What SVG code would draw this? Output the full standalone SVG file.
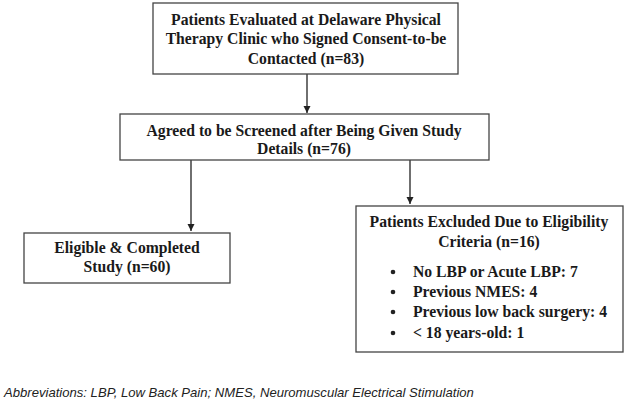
<svg xmlns="http://www.w3.org/2000/svg" width="627" height="406" viewBox="0 0 627 406">
<style>
.box{fill:#fff;stroke:#444;stroke-width:1.3}
.t{font-family:"Liberation Serif","Times New Roman",serif;font-weight:bold;font-size:15.7px;fill:#1a1a1a;text-anchor:middle}
.l{font-family:"Liberation Serif","Times New Roman",serif;font-weight:bold;font-size:15.7px;fill:#1a1a1a}
.c{stroke:#222;stroke-width:1.3;fill:none}
.f{font-family:"Liberation Sans",Arial,sans-serif;font-style:italic;font-size:13.1px;fill:#222}
</style>
<defs>
<marker id="ah" markerWidth="8" markerHeight="8" refX="7" refY="4" orient="auto" markerUnits="userSpaceOnUse">
<path d="M0,0.5 L7,4 L0,7.5 Z" fill="#222"/>
</marker>
</defs>
<rect width="627" height="406" fill="#fff"/>
<g id="connectors">
<line class="c" x1="307" y1="74" x2="307" y2="113" marker-end="url(#ah)"/>
<line class="c" x1="191" y1="160" x2="191" y2="231" marker-end="url(#ah)"/>
<line class="c" x1="410" y1="160" x2="410" y2="204" marker-end="url(#ah)"/>
</g>
<g id="n1">
<rect class="box" x="153" y="3" width="305" height="71"/>
<text class="t" x="306" y="25">Patients Evaluated at Delaware Physical</text>
<text class="t" x="306" y="44">Therapy Clinic who Signed Consent-to-be</text>
<text class="t" x="306" y="64">Contacted (n=83)</text>
</g>
<g id="n2">
<rect class="box" x="120" y="114" width="369" height="46"/>
<text class="t" x="304" y="136">Agreed to be Screened after Being Given Study</text>
<text class="t" x="304" y="154">Details (n=76)</text>
</g>
<g id="n3">
<rect class="box" x="24" y="233" width="206" height="50"/>
<text class="t" x="127" y="253">Eligible &amp; Completed</text>
<text class="t" x="127" y="272">Study (n=60)</text>
</g>
<g id="n4">
<rect class="box" x="356" y="206" width="267" height="146"/>
<text class="t" x="489" y="227">Patients Excluded Due to Eligibility</text>
<text class="t" x="489" y="247">Criteria (n=16)</text>
<circle cx="393" cy="272" r="2.3" fill="#222"/>
<circle cx="393" cy="292" r="2.3" fill="#222"/>
<circle cx="393" cy="312" r="2.3" fill="#222"/>
<circle cx="393" cy="333" r="2.3" fill="#222"/>
<text class="l" x="413" y="277">No LBP or Acute LBP: 7</text>
<text class="l" x="413" y="297">Previous NMES: 4</text>
<text class="l" x="413" y="317">Previous low back surgery: 4</text>
<text class="l" x="413" y="338">&lt; 18 years-old: 1</text>
</g>
<text class="f" x="4" y="397">Abbreviations: LBP, Low Back Pain; NMES, Neuromuscular Electrical Stimulation</text>
</svg>
